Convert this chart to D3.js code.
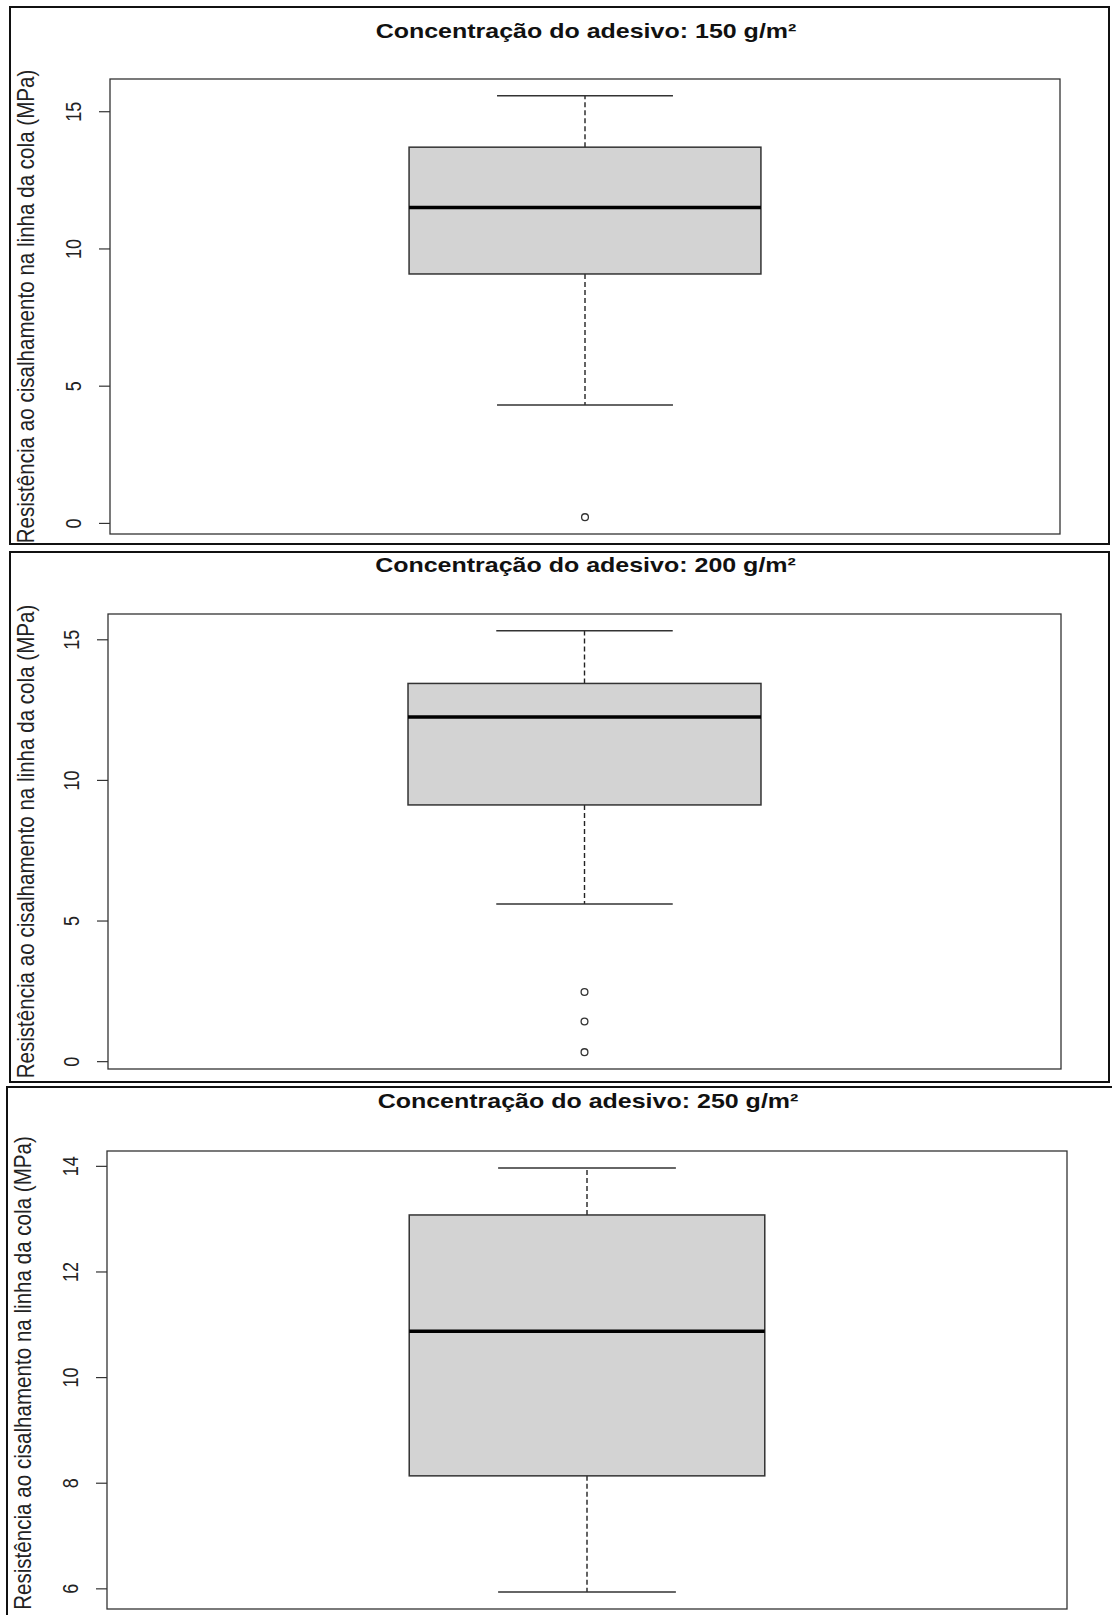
<!DOCTYPE html>
<html>
<head>
<meta charset="utf-8">
<script src="https://cdn.jsdelivr.net/npm/d3@7"></script>
<style>
  html, body { margin: 0; padding: 0; background: #fff; }
  svg { display: block; }
</style>
</head>
<body>
<svg id="chart" width="1112" height="1615"></svg>
<script>
// ---- data ----
const titles = [
  "Concentração do adesivo: 150 g/m²",
  "Concentração do adesivo: 200 g/m²",
  "Concentração do adesivo: 250 g/m²"
];
const yLabel = "Resistência ao cisalhamento na linha da cola (MPa)";
const whiskerLow  = [4.30, 5.59, 5.93];
const q1          = [9.07, 9.11, 8.13];
const median      = [11.49, 12.24, 10.87];
const q3          = [13.69, 13.43, 13.07];
const whiskerHigh = [15.56, 15.30, 13.96];
const outliers    = [[0.21], [2.46, 1.41, 0.32], []];
const yTicks      = [[0, 5, 10, 15], [0, 5, 10, 15], [6, 8, 10, 12, 14]];

// ---- layout ----
const layout = [
  { frame: {x: 10, y: 7,    w: 1099, h: 537}, plot: {l: 110, t: 79,   r: 1060, b: 534},  titleY: 30.5 },
  { frame: {x: 10, y: 552,  w: 1099, h: 530}, plot: {l: 108, t: 614,  r: 1061, b: 1069}, titleY: 565 },
  { frame: {x: 7,  y: 1087, w: 1130, h: 600}, plot: {l: 107, t: 1151, r: 1067, b: 1609}, titleY: 1100.5 }
];
const STRETCH = 1.19;

const svg = d3.select("#chart");
const FONT = "'Liberation Sans', Arial, Helvetica, sans-serif";

titles.forEach((title, i) => {
  const L = layout[i];
  const p = L.plot;
  const g = svg.append("g");

  // outer frame
  g.append("rect")
    .attr("x", L.frame.x).attr("y", L.frame.y)
    .attr("width", L.frame.w).attr("height", L.frame.h)
    .attr("fill", "none").attr("stroke", "#111").attr("stroke-width", 2);

  // scales (R style 4% padding)
  const vals = [whiskerLow[i], whiskerHigh[i], ...outliers[i]];
  const lo = d3.min(vals), hi = d3.max(vals), pad = (hi - lo) * 0.04;
  const y = d3.scaleLinear().domain([lo - pad, hi + pad]).range([p.b, p.t]);
  const x = d3.scaleLinear().domain([0.46, 1.54]).range([p.l, p.r]);

  // title (horizontally stretched like the reference)
  const cxT = (p.l + p.r) / 2 + 1;
  g.append("text")
    .attr("transform", `translate(${cxT},${L.titleY}) scale(${STRETCH},1)`)
    .attr("text-anchor", "middle").attr("dominant-baseline", "central")
    .attr("font-family", FONT).attr("font-weight", "bold").attr("font-size", 21)
    .attr("fill", "#111")
    .text(title);

  // y axis label (kept inside the page)
  const labelCy = Math.min((p.t + p.b) / 2, 1615 - 242);
  g.append("text")
    .attr("transform", `translate(${L.frame.x + 24},${labelCy}) rotate(-90) scale(1,${STRETCH * 0.95})`)
    .attr("text-anchor", "middle")
    .attr("font-family", FONT).attr("font-size", 20.6)
    .attr("fill", "#222")
    .text(yLabel);

  // y axis
  const axis = d3.axisLeft(y).tickValues(yTicks[i]).tickSize(11).tickPadding(0).tickSizeOuter(0);
  const ag = g.append("g").attr("transform", `translate(${p.l},0)`).call(axis);
  ag.select(".domain").remove();
  ag.selectAll(".tick line").attr("stroke", "#333").attr("stroke-width", 1.2);
  ag.selectAll(".tick text").remove();
  ag.selectAll(".tick").append("text")
    .attr("transform", `translate(-29,0) rotate(-90) scale(1,${STRETCH})`)
    .attr("text-anchor", "middle")
    .attr("font-family", FONT).attr("font-size", 18)
    .attr("fill", "#222")
    .text(d => d);

  // whiskers (dashed)
  const cx = x(1);
  g.append("line").attr("x1", cx).attr("x2", cx)
    .attr("y1", y(q3[i])).attr("y2", y(whiskerHigh[i]))
    .attr("stroke", "#222").attr("stroke-width", 1.4).attr("stroke-dasharray", "5,3");
  g.append("line").attr("x1", cx).attr("x2", cx)
    .attr("y1", y(q1[i])).attr("y2", y(whiskerLow[i]))
    .attr("stroke", "#222").attr("stroke-width", 1.4).attr("stroke-dasharray", "5,3");

  // staples
  [whiskerLow[i], whiskerHigh[i]].forEach(v => {
    g.append("line").attr("x1", x(0.9)).attr("x2", x(1.1))
      .attr("y1", y(v)).attr("y2", y(v))
      .attr("stroke", "#333").attr("stroke-width", 1.5);
  });

  // box
  g.append("rect")
    .attr("x", x(0.8)).attr("width", x(1.2) - x(0.8))
    .attr("y", y(q3[i])).attr("height", y(q1[i]) - y(q3[i]))
    .attr("fill", "#d3d3d3").attr("stroke", "#333").attr("stroke-width", 1.5);

  // median
  g.append("line").attr("x1", x(0.8)).attr("x2", x(1.2))
    .attr("y1", y(median[i])).attr("y2", y(median[i]))
    .attr("stroke", "#000").attr("stroke-width", 3.5);

  // outliers
  g.selectAll("circle.out").data(outliers[i]).enter().append("circle")
    .attr("class", "out")
    .attr("cx", cx).attr("cy", d => y(d)).attr("r", 3.4)
    .attr("fill", "none").attr("stroke", "#333").attr("stroke-width", 1.3);

  // plot border
  g.append("rect")
    .attr("x", p.l).attr("y", p.t)
    .attr("width", p.r - p.l).attr("height", p.b - p.t)
    .attr("fill", "none").attr("stroke", "#333").attr("stroke-width", 1.3);
});
</script>
</body>
</html>
